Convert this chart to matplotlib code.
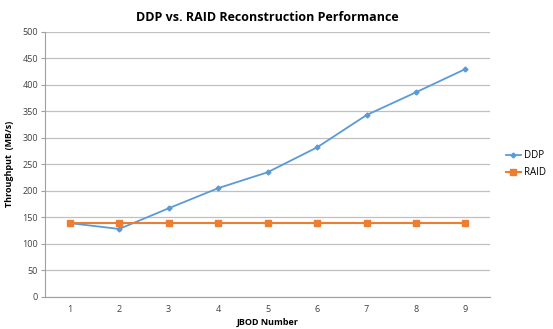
import matplotlib.pyplot as plt
import numpy as np

jbod = [1, 2, 3, 4, 5, 6, 7, 8, 9]
ddp = [139, 128, 167, 205, 235, 282, 343, 386, 430]
raid = [139, 139, 139, 139, 139, 139, 139, 139, 139]

plt.rcParams['font.family'] = ['Open Sans', 'DejaVu Sans']

fig = plt.figure(figsize=(5.53, 3.29), dpi=100)
ax = fig.add_axes([0.0814, 0.098, 0.805, 0.805])

ax.plot(jbod, ddp, color='#5b9bd5', marker='D', markersize=2.5, linewidth=1.3, label='DDP')
ax.plot(jbod, raid, color='#ed7d31', marker='s', markersize=4, linewidth=1.5, label='RAID')

ax.set_xlim(0.5, 9.5)
ax.set_ylim(0, 500)
ax.set_yticks(np.arange(0, 501, 50))
ax.set_xticks(jbod)
ax.grid(axis='y', color='#c0c0c0', linewidth=0.9)
ax.set_axisbelow(True)
for s in ['top', 'right']:
    ax.spines[s].set_visible(False)
ax.spines['left'].set_color('#a0a0a0')
ax.spines['bottom'].set_color('#a0a0a0')
ax.tick_params(axis='y', length=3, color='#a0a0a0', labelsize=6.5, labelcolor='#404040', pad=2)
ax.tick_params(axis='x', length=0, labelsize=6.5, labelcolor='#404040', pad=6)

ax.set_title('DDP vs. RAID Reconstruction Performance', fontsize=9, fontweight='bold', pad=8)
ax.set_xlabel('JBOD Number', fontsize=6.5, fontweight='bold', labelpad=3)
ax.set_ylabel('Throughput  (MB/s)', fontsize=6.5, fontweight='bold', labelpad=6)

ax.legend(loc='center left', bbox_to_anchor=(1.015, 0.5), frameon=False, fontsize=7,
          handlelength=1.6, handletextpad=0.3, labelspacing=0.6, borderaxespad=0.5)

plt.savefig('out.png', dpi=100)
